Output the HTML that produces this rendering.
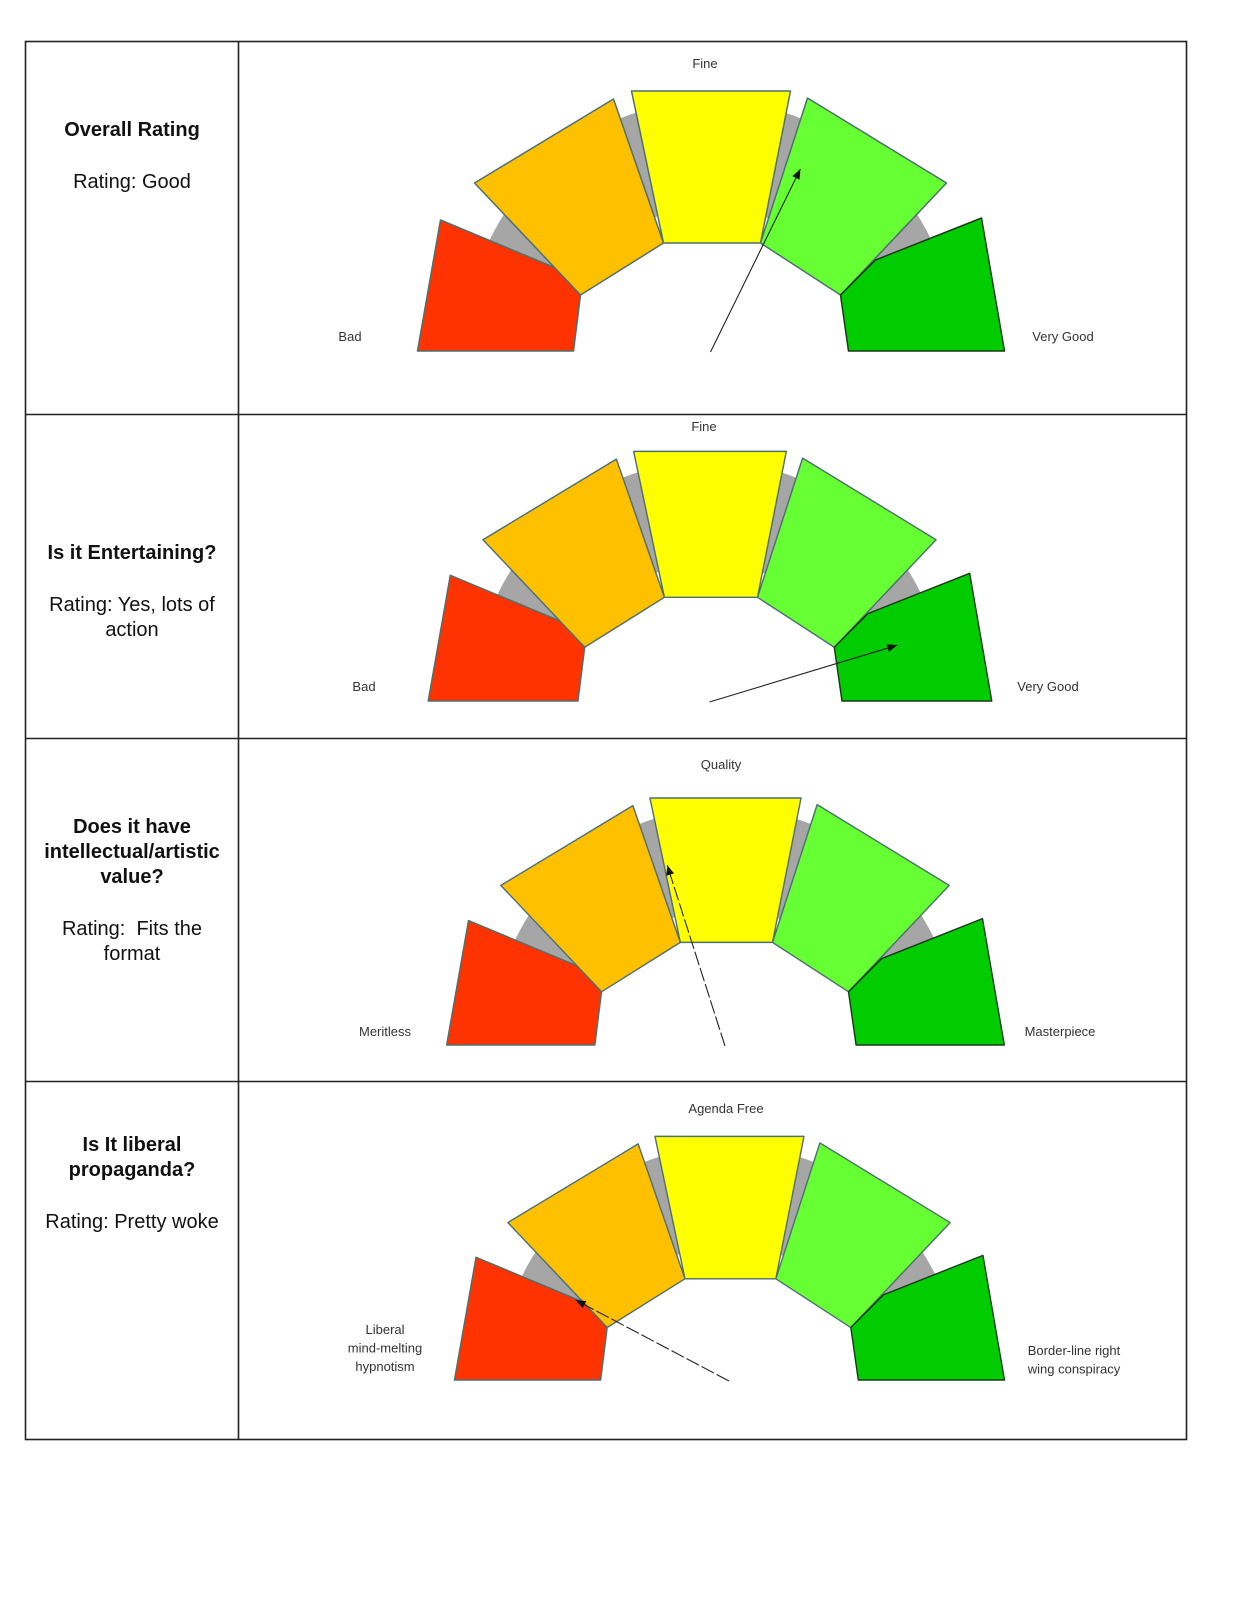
<!DOCTYPE html>
<html><head><meta charset="utf-8">
<style>
body{margin:0;background:#fff;width:1237px;height:1600px;overflow:hidden;font-family:"Liberation Sans",Arial,sans-serif;}
#wrap{position:absolute;left:0;top:0;width:1237px;height:1600px;}
.lt{position:absolute;left:34px;width:196px;text-align:center;color:#111;font-size:20px;line-height:25px;}
.lt b{font-weight:bold;}
</style></head>
<body>
<div id="wrap">
<svg id="svg" width="1237" height="1600" style="position:absolute;left:0;top:0">
  <g stroke="#222" stroke-width="1.6" fill="none">
    <rect x="25.5" y="41.5" width="1161" height="1398"/>
    <line x1="238.5" y1="41" x2="238.5" y2="1440"/>
    <line x1="25" y1="414.5" x2="1187" y2="414.5"/>
    <line x1="25" y1="738.5" x2="1187" y2="738.5"/>
    <line x1="25" y1="1081.5" x2="1187" y2="1081.5"/>
  </g>
  <g id="gauges"></g>
</svg>

<div class="lt" style="top:118px"><b>Overall Rating</b><br><div style="height:27px"></div>Rating: Good</div>
<div class="lt" style="top:541px"><b>Is it Entertaining?</b><br><div style="height:27px"></div>Rating: Yes, lots of action</div>
<div class="lt" style="top:815px"><b>Does it have intellectual/artistic value?</b><br><div style="height:27px"></div>Rating:&nbsp; Fits the format</div>
<div class="lt" style="top:1133px"><b>Is It liberal propaganda?</b><br><div style="height:27px"></div>Rating: Pretty woke</div>
</div>

<script>
// Gauge data
const gaugeNames = ['overall', 'entertaining', 'artistic', 'propaganda'];
const needleValues = [64.6, 90.8, 40.1, 15.3]; // 0 = far left, 100 = far right
const topLabels = ['Fine', 'Fine', 'Quality', 'Agenda Free'];
const leftLabels = [['Bad'], ['Bad'], ['Meritless'], ['Liberal', 'mind-melting', 'hypnotism']];
const rightLabels = [['Very Good'], ['Very Good'], ['Masterpiece'], ['Border-line right', 'wing conspiracy']];
const segColors = ['#ff3300', '#ffc000', '#ffff00', '#66ff33', '#00cc00'];

// geometry (layout, not data)
const geo = [
  {cx:710.5, by:351, s:1.0, len:203, dash:null, tx:705, ty:68, lx:350, ly:341, rx:1063, ry:341},
  {cx:709.5, by:701, s:0.96, len:196, dash:null, tx:704, ty:431, lx:364, ly:691, rx:1048, ry:691},
  {cx:725, by:1045, s:0.95, len:189, dash:'14 3', tx:721, ty:769, lx:385, ly:1036, rx:1060, ry:1036},
  {cx:729, by:1380, s:0.937, len:173, dash:'14 3', tx:726, ty:1113, lx:385, ly:1334, rx:1074, ry:1355}
];
const shapes = [
  [[-293,0],[-270,-131],[-155,-83],[-130,-56],[-137,0]],
  [[-236,-168],[-97,-252],[-47,-108],[-130,-56]],
  [[-79,-260],[80,-260],[50,-108],[-47,-108]],
  [[97,-253],[236,-168],[130,-56],[50,-108]],
  [[130,-56],[165,-91],[271,-133],[294,0],[138,0]]
];

const NS = 'http://www.w3.org/2000/svg';
const root = document.getElementById('gauges');
function mk(tag, attrs, parent){
  const e = document.createElementNS(NS, tag);
  for (const k in attrs) e.setAttribute(k, attrs[k]);
  parent.appendChild(e);
  return e;
}
function valueToAngle(v){ return (180 - v * 1.8) * Math.PI / 180; }

gaugeNames.forEach((name, i) => {
  const g = geo[i];
  const grp = mk('g', {}, root);
  
  
  const inner = mk('g', {transform: `translate(${g.cx},${g.by}) scale(${g.s})`}, grp);
  const ro = 245, ri = 140, cy = -5;
  const arc = mk('path', {d:`M ${-ro} ${cy} A ${ro} ${ro} 0 0 1 ${ro} ${cy} L ${ri} ${cy} A ${ri} ${ri} 0 0 0 ${-ri} ${cy} Z`, fill:'#a6a6a6'}, inner);
  
  
  shapes.forEach((pts, j) => {
    const p = mk('polygon', {points: pts.map(q => q.join(',')).join(' '), fill: segColors[j], stroke: j===4 ? '#1a3a1a' : '#4f6f6f', 'stroke-width': 1.5, 'stroke-linejoin':'round'}, inner);
    
    
  });
  const a = valueToAngle(needleValues[i]);
  const x2 = g.cx + g.len * Math.cos(a), y2 = g.by - g.len * Math.sin(a);
  const ln = mk('line', {x1:g.cx, y1:g.by + 1, x2:x2, y2:y2, stroke:'#222', 'stroke-width':1.1}, grp);
  if (g.dash) ln.setAttribute('stroke-dasharray', g.dash);
  
  
  const hl = 10, hw = 4;
  const ux = Math.cos(a), uy = -Math.sin(a);
  const bx = x2 - ux*hl, byy = y2 - uy*hl;
  const head = mk('polygon', {points:`${x2},${y2} ${bx - uy*hw},${byy + ux*hw} ${bx + uy*hw},${byy - ux*hw}`, fill:'#111'}, grp);
  
  
  const t = mk('text', {x:g.tx, y:g.ty, 'text-anchor':'middle', 'font-size':13, fill:'#333', 'font-family':'Liberation Sans, sans-serif'}, grp);
  t.textContent = topLabels[i];
  
  
  leftLabels[i].forEach((s, k) => {
    const e = mk('text', {x:g.lx, y:g.ly + k*18.5, 'text-anchor':'middle', 'font-size':13, fill:'#333', 'font-family':'Liberation Sans, sans-serif'}, grp);
    e.textContent = s;
    
    
  });
  rightLabels[i].forEach((s, k) => {
    const e = mk('text', {x:g.rx, y:g.ry + k*18.5, 'text-anchor':'middle', 'font-size':13, fill:'#333', 'font-family':'Liberation Sans, sans-serif'}, grp);
    e.textContent = s;
    
    
  });
});
</script>
</body></html>
